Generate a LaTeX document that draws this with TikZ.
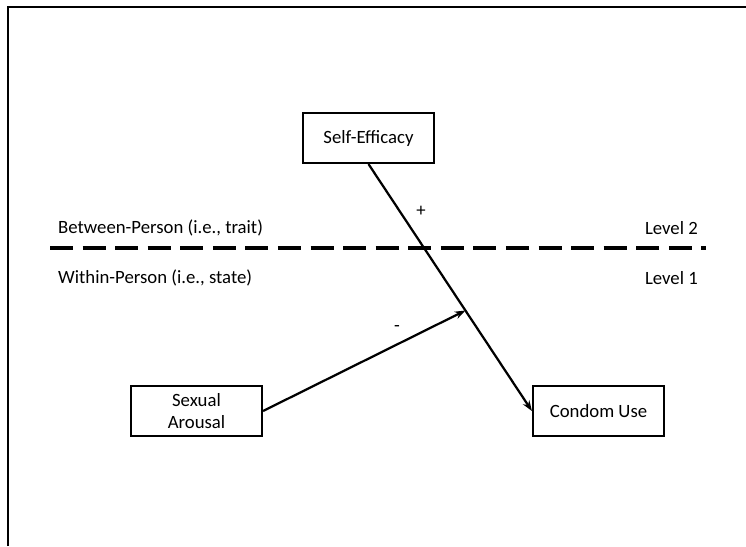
\documentclass[tikz,border=0pt]{standalone}
\usepackage{fontspec}
\setmainfont{Carlito}
\usepackage{tikz}
\usetikzlibrary{arrows.meta, calc}

\begin{document}
\begin{tikzpicture}[x=0.03cm,y=-0.03cm,
  varbox/.style={draw,line width=1.8pt,minimum width=3.93cm,minimum height=1.5cm,inner sep=1pt,align=center,font=\fontsize{16pt}{19pt}\selectfont},
  lbl/.style={inner sep=0pt,font=\fontsize{16pt}{19pt}\selectfont},
  path/.style={line width=1.9pt,-{Stealth[length=9pt,width=6.5pt]}}]

\useasboundingbox (0,0) rectangle (746,546);
\draw[line width=1.6pt] (8,546)--(8,7)--(746,7);

\node[varbox] (se) at (368.5,138) {Self-Efficacy};
\node[varbox] (sa) at (196.5,411) {Sexual\\Arousal};
\node[varbox] (cu) at (598.5,411) {Condom Use};

\draw[path] (se.south)--(cu.west);
\coordinate (mod) at ($(se.south)!0.593!(cu.west)$);
\draw[path] (sa.east)--(mod);

\node[lbl] (plus) at (421,211) {+};
\node[lbl] (minus) at (397,329) {-};

\draw[line width=2.9pt,dash pattern=on 19.6pt off 8.2pt] (50,248)--(706,248);

\node[lbl,anchor=west] (btw) at (58,228) {Between-Person (i.e., trait)};
\node[lbl,anchor=west] (wth) at (58,278) {Within-Person (i.e., state)};
\node[lbl,anchor=east] (lv2) at (698,228) {Level 2};
\node[lbl,anchor=east] (lv1) at (698,278) {Level 1};

\end{tikzpicture}
\end{document}
